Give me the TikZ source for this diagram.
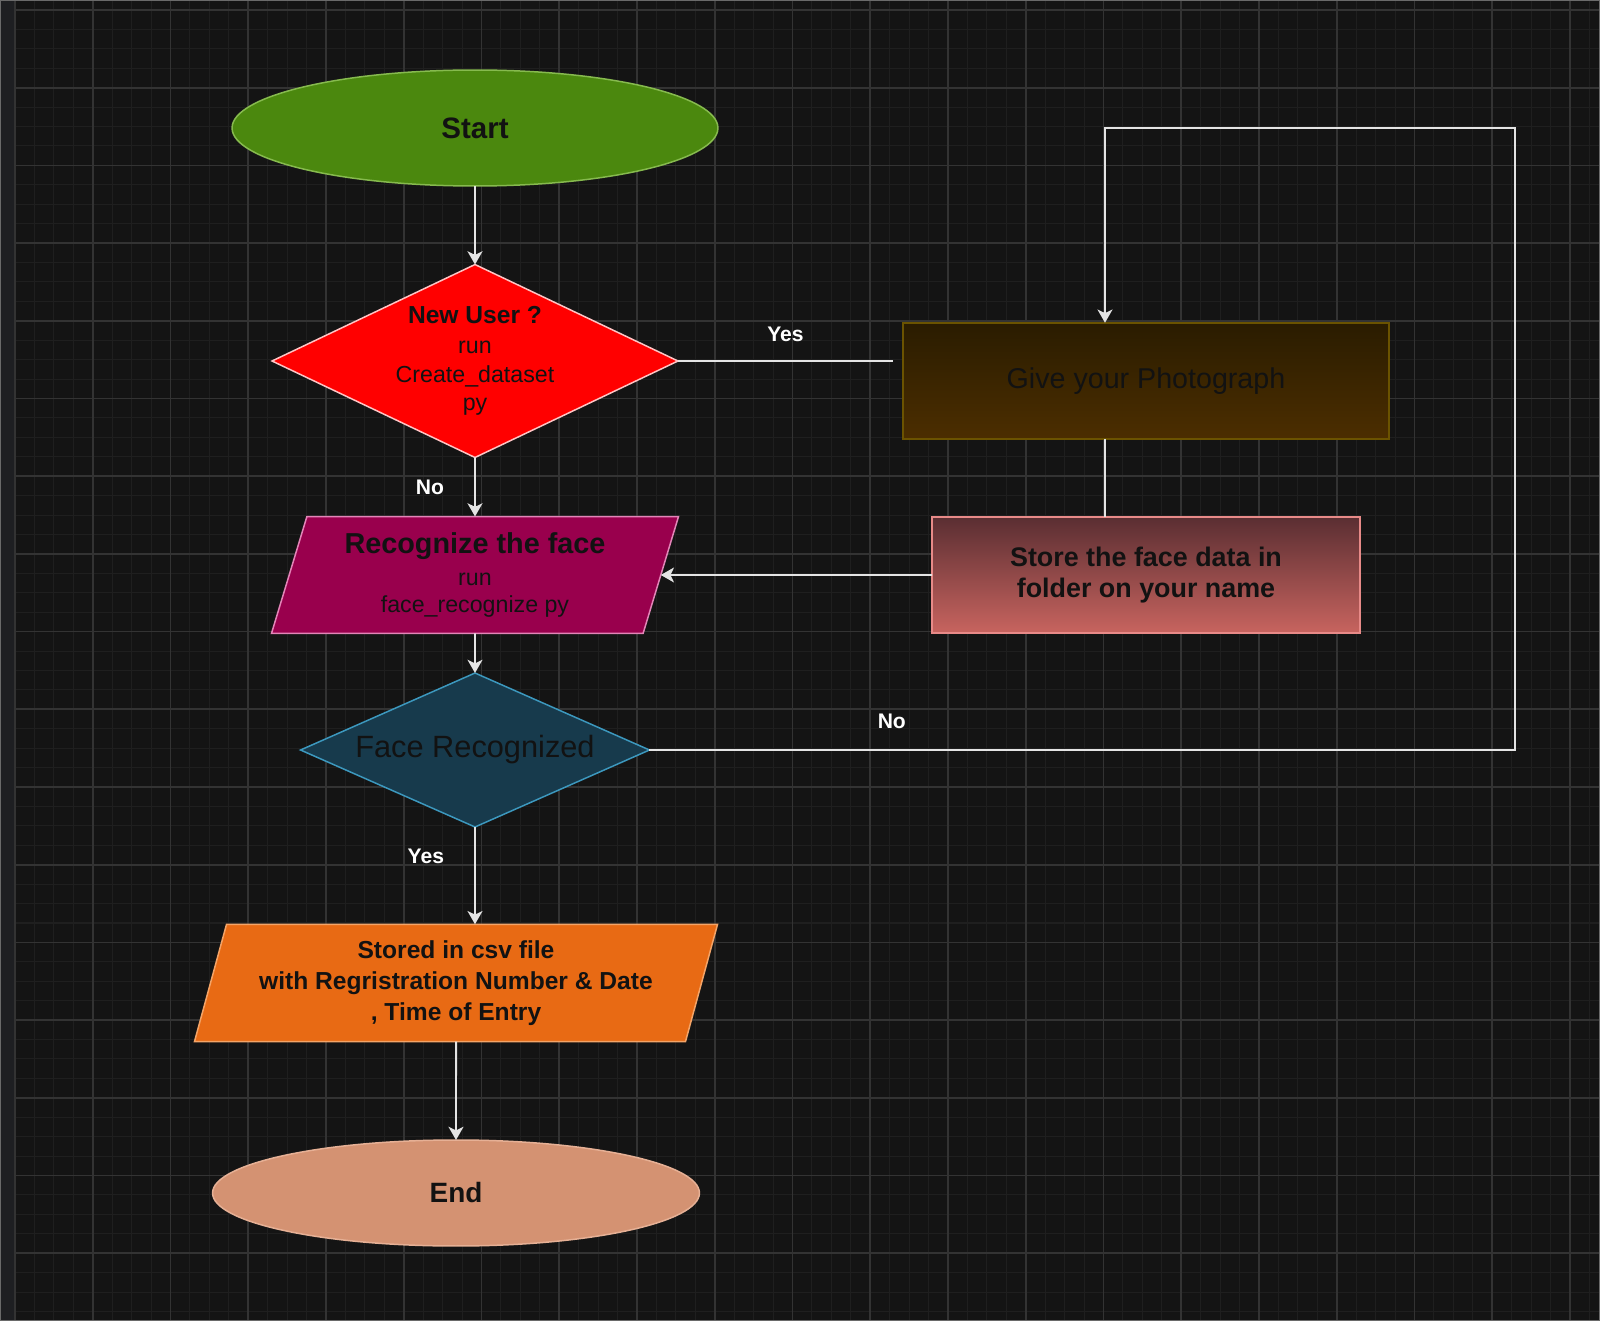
\documentclass[tikz,border=0pt]{standalone}
\usepackage{fontspec}
\setmainfont{Liberation Sans}
\usetikzlibrary{shapes.geometric,arrows.meta,positioning}

\definecolor{canvas}{HTML}{141414}
\definecolor{sidebar}{HTML}{1E1F22}
\definecolor{framegray}{HTML}{6A6A6A}
\definecolor{minorgrid}{HTML}{1F1F1F}
\definecolor{majorgrid}{HTML}{333333}
\definecolor{inktext}{HTML}{121212}
\definecolor{wire}{HTML}{E4E4E4}
\definecolor{startfill}{HTML}{4B880E}
\definecolor{startline}{HTML}{86BA4E}
\definecolor{newfill}{HTML}{FF0000}
\definecolor{newline}{HTML}{FFC4C4}
\definecolor{recogfill}{HTML}{99004D}
\definecolor{recogline}{HTML}{E385B8}
\definecolor{facefill}{HTML}{173A4C}
\definecolor{faceline}{HTML}{3C98BE}
\definecolor{storedfill}{HTML}{E86A14}
\definecolor{storedline}{HTML}{F4A467}
\definecolor{endfill}{HTML}{D49272}
\definecolor{endline}{HTML}{E6B095}
\definecolor{phototop}{HTML}{2A1C00}
\definecolor{photobot}{HTML}{4C2E00}
\definecolor{photoline}{HTML}{6B5300}
\definecolor{storetop}{HTML}{5A2E32}
\definecolor{storebot}{HTML}{C8645F}
\definecolor{storeline}{HTML}{E88A88}

\tikzset{
  base/.style={draw, line width=0.85pt, inner sep=0pt, outer sep=0pt, text=inktext, align=center},
  terminal/.style={base, ellipse},
  decision/.style={base, diamond},
  iobox/.style={base, trapezium, trapezium left angle=72, trapezium right angle=108, trapezium stretches=true},
  process/.style={base, rectangle},
  link/.style={draw=wire, line width=1.1pt},
  arrow/.style={link, -{Stealth[length=7.5pt, width=8.5pt, inset=2pt]}},
  edgelabel/.style={text=white, inner sep=0pt, font=\bfseries\fontsize{12}{14}\selectfont},
  minorline/.style={draw=minorgrid, line width=0.6pt},
  majorline/.style={draw=majorgrid, line width=1pt}
}

\begin{document}
\begin{tikzpicture}[x=0.02cm, y=-0.02cm]
% canvas and grid
\fill[canvas] (0,0) rectangle (1600,1321);
\useasboundingbox (0,0) rectangle (1600,1321);
\fill[sidebar] (0,0) rectangle (15,1321);
\foreach \i in {0,...,81}
  \draw[minorline] ({15+19.4375*\i},0) -- ({15+19.4375*\i},1321);
\foreach \j in {0,...,67}
  \draw[minorline] (15,{10+19.425*\j}) -- (1600,{10+19.425*\j});
\foreach \i in {0,...,20}
  \draw[majorline] ({15+77.75*\i},0) -- ({15+77.75*\i},1321);
\foreach \j in {0,...,16}
  \draw[majorline] (15,{10+77.7*\j}) -- (1600,{10+77.7*\j});
\draw[framegray, line width=0.8pt] (0.7,0.7) rectangle (1599.3,1320.3);

% main column
\node[terminal, minimum width=9.72cm, minimum height=2.32cm, fill=startfill, draw=startline,
  font=\bfseries\fontsize{16.8}{19}\selectfont] (start) at (475,128) {Start};
\node[decision, aspect=2.1, minimum width=8.12cm, minimum height=3.86cm, fill=newfill, draw=newline,
  font=\fontsize{13.2}{16.2}\selectfont] (newuser) at (475,361)
  {{\bfseries\fontsize{14}{16.2}\selectfont New User ?}\\[1pt]run\\Create\_dataset\\py};
\node[iobox, minimum width=8.15cm, minimum height=2.34cm, fill=recogfill, draw=recogline,
  font=\fontsize{13.2}{15.3}\selectfont] (recog) at (475,575)
  {{\bfseries\fontsize{16.4}{17}\selectfont Recognize the face}\\[3pt]run\\face\_recognize py};
\node[decision, aspect=2.27, minimum width=6.98cm, minimum height=3.08cm, fill=facefill, draw=faceline,
  font=\fontsize{17.5}{20}\selectfont] (face) at (475,750) {Face Recognized};
\node[iobox, minimum width=10.49cm, minimum height=2.35cm, fill=storedfill, draw=storedline,
  font=\bfseries\fontsize{14}{17.6}\selectfont] (stored) at (456,983)
  {Stored in csv file\\with Regristration Number \& Date\\, Time of Entry};
\node[terminal, minimum width=9.74cm, minimum height=2.12cm, fill=endfill, draw=endline,
  font=\bfseries\fontsize{15.9}{18}\selectfont] (end) at (456,1193) {End};

% new user branch
\node[process, minimum width=9.72cm, minimum height=2.33cm, top color=phototop, bottom color=photobot,
  draw=photoline, font=\fontsize{16.3}{19}\selectfont] (photo) at (1146,381) {Give your Photograph};
\node[process, minimum width=8.56cm, minimum height=2.33cm, top color=storetop, bottom color=storebot,
  draw=storeline, font=\bfseries\fontsize{15.3}{17.9}\selectfont] (store) at (1146,575)
  {Store the face data in\\folder on your name};
\coordinate (yesend) at (893,361);
\coordinate (looptop) at (1105,128);
\coordinate (loopturn) at (1515,128);

% connectors
\draw[arrow] (start) -- (newuser);
\draw[link] (newuser.east) -- node[edgelabel, above=0.36cm] {Yes} (yesend);
\draw[arrow] (newuser) -- node[edgelabel, left=0.6cm] {No} (recog);
\draw[link] (looptop |- photo.south) -- (looptop |- store.north);
\draw[arrow] (store.west) -- (recog.east);
\draw[arrow] (recog) -- (face);
\draw[arrow] (face.east) -- node[edgelabel, pos=0.28, above=0.4cm] {No} (face.east -| loopturn)
  -- (loopturn) -- (looptop) -- (looptop |- photo.north);
\draw[arrow] (face.south) -- node[edgelabel, pos=0.3, left=0.6cm] {Yes} (face.south |- stored.north);
\draw[arrow] (stored) -- (end);
\end{tikzpicture}
\end{document}
